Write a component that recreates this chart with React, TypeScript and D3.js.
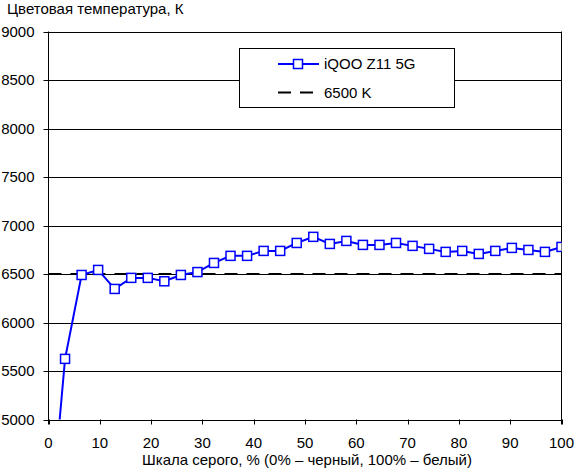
import React from "react";
import * as d3 from "d3";

const grayLevels: number[] = Array.from({ length: 32 }, (_, i) => (i * 100) / 31);
const seriesValues: number[] = [
  3700, 5625, 6490, 6542, 6346, 6460, 6460, 6425, 6490, 6520, 6614, 6687, 6687, 6738, 6738, 6820,
  6883, 6810, 6841, 6800, 6800, 6820, 6790, 6759, 6728, 6738, 6707, 6738, 6769, 6748, 6728, 6779,
];
const yTicks: number[] = [5000, 5500, 6000, 6500, 7000, 7500, 8000, 8500, 9000];
const xTicks: number[] = [0, 10, 20, 30, 40, 50, 60, 70, 80, 90, 100];
const referenceValue = 6500;
const seriesName = "iQOO Z11 5G";
const referenceName = "6500 K";
const yTitle = "Цветовая температура, К";
const xTitle = "Шкала серого, % (0% – черный, 100% – белый)";

const W = 574;
const H = 469;
const L = 48.5;
const R = 561.5;
const T = 31.5;
const B = 419.5;
const FONT = "'Liberation Sans', Arial, sans-serif";
const FS = 15;
const BLUE = "#0000ff";

export default function App() {
  const x = d3.scaleLinear().domain([0, 100]).range([L, R]);
  const y = d3.scaleLinear().domain([5000, 9000]).range([B, T]);
  const pts = grayLevels.map((g, i) => [x(g), y(seriesValues[i])] as [number, number]);
  const line = d3.line<[number, number]>()(pts) || "";
  const ms = 9;

  return (
    <svg
      width={W}
      height={H}
      style={{ position: "absolute", left: 0, top: 0, background: "#fff" }}
      fontFamily={FONT}
    >
      <defs>
        <clipPath id="plotClip">
          <rect x={L} y={T} width={R - L} height={B - T} />
        </clipPath>
      </defs>
      <rect x={0} y={0} width={W} height={H} fill="#fff" />
      <text x={7} y={13.5} fontSize={FS} fill="#000">{yTitle}</text>

      {yTicks.map((v) => (
        <g key={v}>
          <line x1={L} x2={R} y1={Math.round(y(v)) + 0.5} y2={Math.round(y(v)) + 0.5} stroke="#000" strokeWidth={1} />
          <line x1={L - 5} x2={L} y1={Math.round(y(v)) + 0.5} y2={Math.round(y(v)) + 0.5} stroke="#000" strokeWidth={1} />
          <text x={34.5} y={y(v) + 5} fontSize={FS} textAnchor="end" fill="#000">{v}</text>
        </g>
      ))}
      <line x1={L} x2={L} y1={T} y2={B + 5} stroke="#000" strokeWidth={1} />
      <line x1={R} x2={R} y1={T} y2={B + 5} stroke="#000" strokeWidth={1} />
      {xTicks.map((v) => (
        <g key={v}>
          <line x1={Math.round(x(v)) + 0.5} x2={Math.round(x(v)) + 0.5} y1={B} y2={B + 5} stroke="#000" strokeWidth={1} />
          <text x={x(v)} y={448} fontSize={FS} textAnchor="middle" fill="#000">{v}</text>
        </g>
      ))}
      <text x={(L + R) / 2 + 2} y={465} fontSize={FS} textAnchor="middle" fill="#000">{xTitle}</text>

      <line
        x1={L}
        x2={R}
        y1={y(referenceValue)}
        y2={y(referenceValue)}
        stroke="#000"
        strokeWidth={2}
        strokeDasharray="13,9"
      />

      <g clipPath="url(#plotClip)">
        <path d={line} fill="none" stroke={BLUE} strokeWidth={2} />
        {pts.map(([px, py], i) => (
          <rect
            key={i}
            x={px - ms / 2}
            y={py - ms / 2}
            width={ms}
            height={ms}
            fill="#fff"
            stroke={BLUE}
            strokeWidth={1.5}
          />
        ))}
      </g>

      <g>
        <rect x={239.5} y={48.5} width={215} height={59} fill="#fff" stroke="#000" strokeWidth={1} />
        <line x1={278} x2={319} y1={64} y2={64} stroke={BLUE} strokeWidth={2} />
        <rect x={298 - ms / 2} y={64 - ms / 2} width={ms} height={ms} fill="#fff" stroke={BLUE} strokeWidth={1.5} />
        <text x={324} y={69} fontSize={FS} fill="#000">{seriesName}</text>
        <line x1={278} x2={320} y1={92.5} y2={92.5} stroke="#000" strokeWidth={2} strokeDasharray="13,9" />
        <text x={324} y={97.5} fontSize={FS} fill="#000">{referenceName}</text>
      </g>
    </svg>
  );
}
